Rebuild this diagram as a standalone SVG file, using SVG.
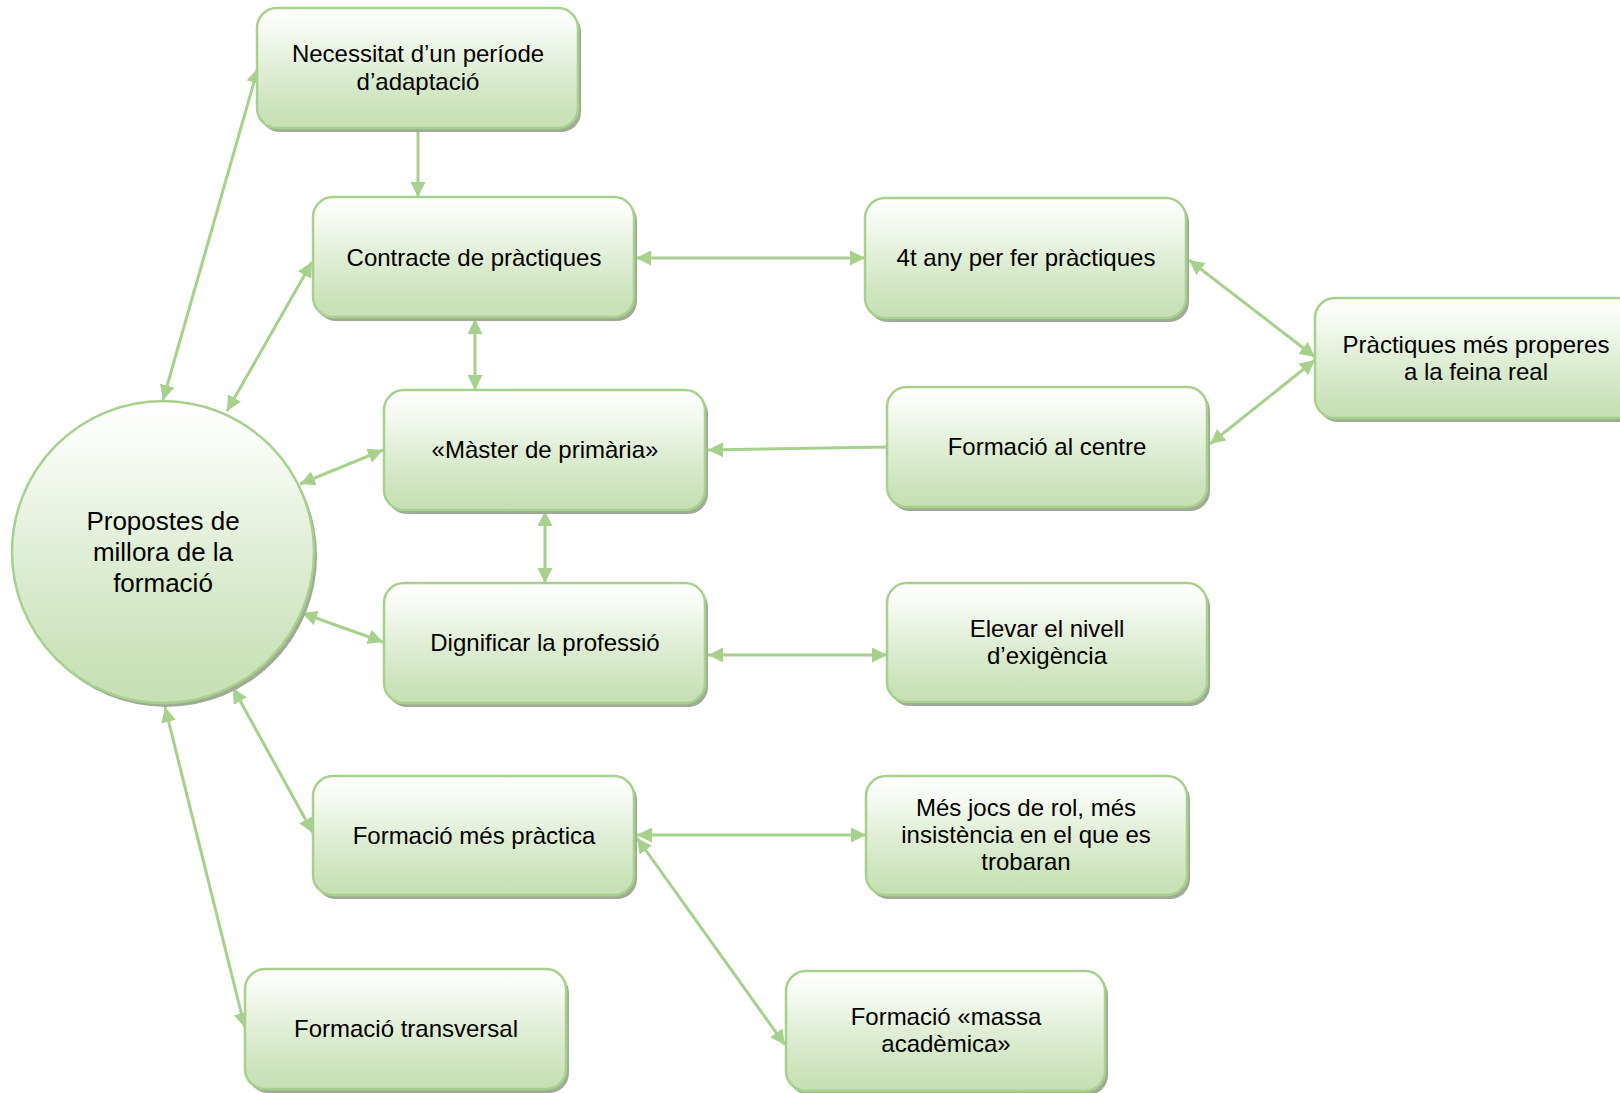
<svg xmlns="http://www.w3.org/2000/svg" width="1620" height="1093" viewBox="0 0 1620 1093">
<style>
  .box { fill: url(#g); stroke: #a8d08d; stroke-width: 2.5; }
  .sh { fill: #9eac95; }
  .t { font-family: "Liberation Sans", Arial, sans-serif; font-size: 24px; fill: #000; text-anchor: middle; }
  .tc { font-family: "Liberation Sans", Arial, sans-serif; font-size: 26px; fill: #000; text-anchor: middle; }
  .c { stroke: #a8d08d; stroke-width: 3; fill: none; }
  .d { marker-start: url(#a); marker-end: url(#a); }
  .s { marker-end: url(#a); }
</style>
<defs>
  <linearGradient id="g" x1="0" y1="0" x2="0" y2="1">
    <stop offset="0" stop-color="#ffffff"/>
    <stop offset="0.18" stop-color="#f6faf3"/>
    <stop offset="0.5" stop-color="#e0eed6"/>
    <stop offset="0.85" stop-color="#cbe3bb"/>
    <stop offset="1" stop-color="#c6dfb4"/>
  </linearGradient>
  <marker id="a" viewBox="0 0 14 14" refX="14" refY="7" markerWidth="15" markerHeight="15" markerUnits="userSpaceOnUse" orient="auto-start-reverse">
    <path d="M0,0 L14,7 L0,14 z" fill="#a8d08d"/>
  </marker>
</defs>
<rect width="1620" height="1093" fill="#ffffff"/>

<g id="connectors">
  <line class="c s" x1="418" y1="131" x2="418" y2="197"/>
  <line class="c d" x1="163" y1="400" x2="258" y2="68"/>
  <line class="c d" x1="227" y1="411" x2="312" y2="262"/>
  <line class="c d" x1="636" y1="258" x2="865" y2="258"/>
  <line class="c d" x1="475" y1="319" x2="475" y2="390"/>
  <line class="c d" x1="1189" y1="260" x2="1315" y2="357"/>
  <line class="c d" x1="1210" y1="444" x2="1315" y2="360"/>
  <line class="c s" x1="887" y1="447" x2="708" y2="450"/>
  <line class="c d" x1="300" y1="484" x2="383" y2="450"/>
  <line class="c d" x1="545" y1="511" x2="545" y2="583"/>
  <line class="c d" x1="302" y1="613" x2="383" y2="642"/>
  <line class="c d" x1="708" y1="655" x2="887" y2="655"/>
  <line class="c d" x1="233" y1="688" x2="313" y2="833"/>
  <line class="c d" x1="637" y1="835" x2="866" y2="835"/>
  <line class="c d" x1="637" y1="838" x2="785" y2="1045"/>
  <line class="c d" x1="165" y1="707" x2="245" y2="1028"/>
</g>

<g id="n-centre">
  <circle class="sh" cx="166" cy="556" r="151"/>
  <circle class="box" cx="163" cy="552" r="151"/>
  <text class="tc" x="163" y="530">Propostes de</text>
  <text class="tc" x="163" y="561">millora de la</text>
  <text class="tc" x="163" y="592">formació</text>
</g>

<g id="n-necessitat">
  <rect class="sh" x="260" y="12" width="321" height="120" rx="20"/>
  <rect class="box" x="257" y="8" width="321" height="120" rx="20"/>
  <text class="t" x="418" y="62">Necessitat d’un període</text>
  <text class="t" x="418" y="90">d’adaptació</text>
</g>

<g id="n-contracte">
  <rect class="sh" x="316" y="201" width="321" height="120" rx="20"/>
  <rect class="box" x="313" y="197" width="321" height="120" rx="20"/>
  <text class="t" x="474" y="266">Contracte de pràctiques</text>
</g>

<g id="n-4tany">
  <rect class="sh" x="868" y="202" width="321" height="120" rx="20"/>
  <rect class="box" x="865" y="198" width="321" height="120" rx="20"/>
  <text class="t" x="1026" y="266">4t any per fer pràctiques</text>
</g>

<g id="n-practiques">
  <rect class="sh" x="1318" y="302" width="322" height="120" rx="20"/>
  <rect class="box" x="1315" y="298" width="322" height="120" rx="20"/>
  <text class="t" x="1476" y="353">Pràctiques més properes</text>
  <text class="t" x="1476" y="380">a la feina real</text>
</g>

<g id="n-master">
  <rect class="sh" x="387" y="394" width="321" height="120" rx="20"/>
  <rect class="box" x="384" y="390" width="321" height="120" rx="20"/>
  <text class="t" x="545" y="458">«Màster de primària»</text>
</g>

<g id="n-formacio-centre">
  <rect class="sh" x="890" y="391" width="320" height="120" rx="20"/>
  <rect class="box" x="887" y="387" width="320" height="120" rx="20"/>
  <text class="t" x="1047" y="455">Formació al centre</text>
</g>

<g id="n-dignificar">
  <rect class="sh" x="387" y="587" width="321" height="120" rx="20"/>
  <rect class="box" x="384" y="583" width="321" height="120" rx="20"/>
  <text class="t" x="545" y="651">Dignificar la professió</text>
</g>

<g id="n-elevar">
  <rect class="sh" x="890" y="587" width="320" height="119" rx="20"/>
  <rect class="box" x="887" y="583" width="320" height="119" rx="20"/>
  <text class="t" x="1047" y="637">Elevar el nivell</text>
  <text class="t" x="1047" y="664">d’exigència</text>
</g>

<g id="n-formacio-practica">
  <rect class="sh" x="316" y="780" width="321" height="119" rx="20"/>
  <rect class="box" x="313" y="776" width="321" height="119" rx="20"/>
  <text class="t" x="474" y="844">Formació més pràctica</text>
</g>

<g id="n-mes-jocs">
  <rect class="sh" x="869" y="780" width="321" height="119" rx="20"/>
  <rect class="box" x="866" y="776" width="321" height="119" rx="20"/>
  <text class="t" x="1026" y="816">Més jocs de rol, més</text>
  <text class="t" x="1026" y="843">insistència en el que es</text>
  <text class="t" x="1026" y="870">trobaran</text>
</g>

<g id="n-transversal">
  <rect class="sh" x="248" y="973" width="321" height="120" rx="20"/>
  <rect class="box" x="245" y="969" width="321" height="120" rx="20"/>
  <text class="t" x="406" y="1037">Formació transversal</text>
</g>

<g id="n-massa">
  <rect class="sh" x="789" y="975" width="319" height="120" rx="20"/>
  <rect class="box" x="786" y="971" width="319" height="120" rx="20"/>
  <text class="t" x="946" y="1025">Formació «massa</text>
  <text class="t" x="946" y="1052">acadèmica»</text>
</g>
</svg>
